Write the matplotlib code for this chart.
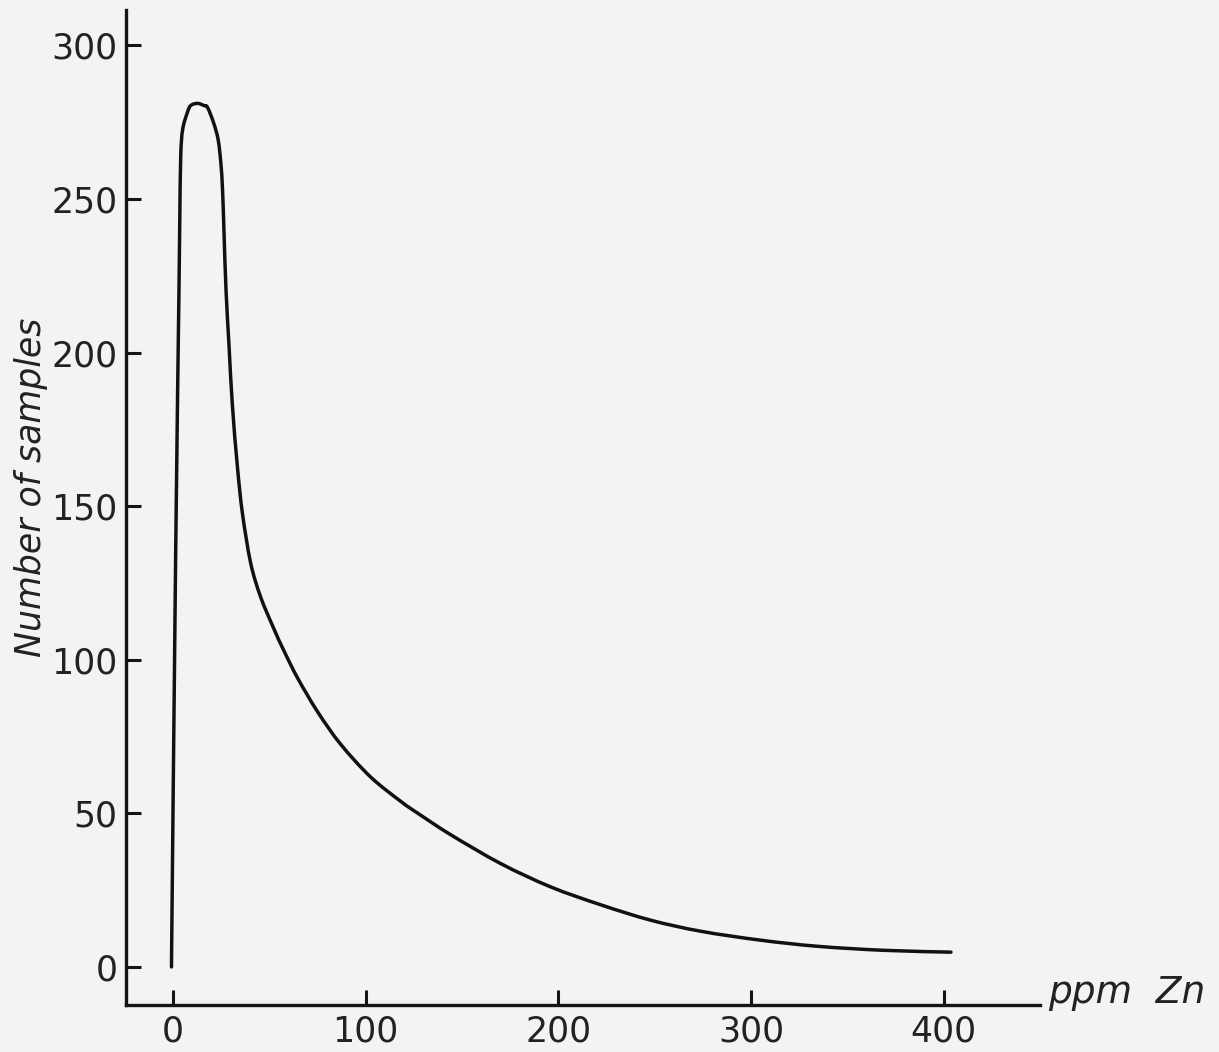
import numpy as np
import matplotlib
matplotlib.use('Agg')
import matplotlib.pyplot as plt
from matplotlib.path import Path
from matplotlib.patches import PathPatch

# values (ppm Zn, number of samples)
ppm_zn = [-0.8, 1.4, 3.1, 3.5, 4.0, 5.0, 7.5, 9.2, 12.7, 16.1, 17.9, 21.0, 23.4,
          24.8, 25.7, 26.5, 27.5, 29.1, 30.8, 33.4, 36.0, 40.3, 45.5, 52.4, 57.5,
          64.7, 75.1, 87.0, 102.6, 118.4, 127.1, 144.2, 170.2, 196.2, 222.1, 248.0,
          274.0, 305.0, 334.7, 369.0, 403.8]
n_samples = [0, 135.8, 220.5, 242.3, 263.8, 272.6, 278.2, 280.4, 281.1, 280.4, 279.8,
             274.9, 269.4, 261.9, 253.1, 238.5, 220.5, 201.9, 183.0, 163.0, 147.8,
             131.5, 120.4, 110.0, 103.0, 94.0, 83.0, 72.5, 61.8, 53.8, 50.0, 43.0,
             33.6, 26.0, 20.2, 15.2, 11.6, 8.7, 6.7, 5.4, 4.8]

xticks = [0, 100, 200, 300, 400]
yticks = [0, 50, 100, 150, 200, 250, 300]


def smooth_path(xs, ys):
    # draw the read points as one smooth pen stroke (catmull-rom -> bezier)
    p = np.column_stack([xs, ys]).astype(float)
    pts = [p[0]]
    codes = [Path.MOVETO]
    n = len(p)
    for i in range(n - 1):
        p0 = p[i - 1] if i > 0 else p[i]
        p3 = p[i + 2] if i + 2 < n else p[i + 1]
        c1 = p[i] + (p[i + 1] - p0) / 6.0
        c2 = p[i + 1] - (p3 - p[i]) / 6.0
        pts += [c1, c2, p[i + 1]]
        codes += [Path.CURVE4] * 3
    return Path(np.array(pts), codes)


bg = '#f3f3f3'
fig = plt.figure(figsize=(12.19, 10.52), dpi=100, facecolor=bg)
ax = fig.add_axes([126/1219, 47/1052, (1040-126)/1219, (1005-10)/1052])
ax.set_facecolor(bg)

ax.add_patch(PathPatch(smooth_path(ppm_zn, n_samples), facecolor='none',
                       edgecolor='#111111', lw=2.5, capstyle='round',
                       joinstyle='round'))

ax.set_xlim(-24.4, 450)
ax.set_ylim(-12.4, 311.5)

for s in ['top', 'right']:
    ax.spines[s].set_visible(False)
for s in ['left', 'bottom']:
    ax.spines[s].set_linewidth(2.4)
    ax.spines[s].set_color('#151515')

ax.set_xticks(xticks)
ax.set_yticks(yticks)
ax.tick_params(direction='in', length=11, width=2.2, color='#151515',
               labelsize=25, labelcolor='#222222')
ax.tick_params(axis='x', pad=7)
ax.tick_params(axis='y', pad=6)

ax.set_ylabel('Number of samples', fontsize=25, style='italic', color='#222222')
ax.yaxis.set_label_coords(-0.085, 0.52)

fig.text(1048/1219, 1 - 993/1052, 'ppm  Zn', fontsize=27, style='italic',
         color='#222222', ha='left', va='center')

fig.savefig('out.png', dpi=100, facecolor=bg)
